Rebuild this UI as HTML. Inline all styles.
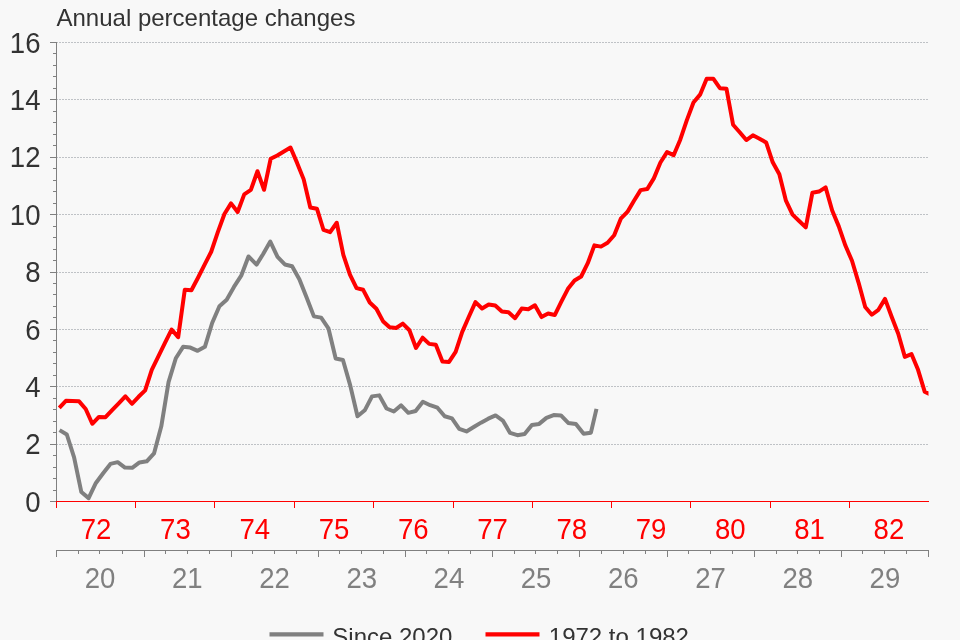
<!DOCTYPE html><html><head><meta charset="utf-8"><title>Annual percentage changes</title><style>html,body{margin:0;padding:0;background:#f8f8f8;overflow:hidden}svg{display:block}text{font-family:"Liberation Sans",sans-serif;font-size:24px}</style></head><body>
<svg width="960" height="640" viewBox="0 0 960 640">
<rect width="960" height="640" fill="#f8f8f8"/>
<defs><clipPath id="c"><rect x="56" y="30" width="872.5" height="480"/></clipPath></defs>
<g stroke="#bfc2c6" stroke-width="1" stroke-dasharray="2 1" stroke-dashoffset="1" shape-rendering="crispEdges">
<line x1="57" x2="928" y1="444.5" y2="444.5"/>
<line x1="57" x2="928" y1="386.5" y2="386.5"/>
<line x1="57" x2="928" y1="329.5" y2="329.5"/>
<line x1="57" x2="928" y1="272.5" y2="272.5"/>
<line x1="57" x2="928" y1="214.5" y2="214.5"/>
<line x1="57" x2="928" y1="157.5" y2="157.5"/>
<line x1="57" x2="928" y1="99.5" y2="99.5"/>
<line x1="57" x2="928" y1="42.5" y2="42.5"/>
</g>
<g stroke="#808080" stroke-width="1" shape-rendering="crispEdges">
<line x1="56.5" x2="56.5" y1="42" y2="502"/>
<line x1="50" x2="57" y1="501.5" y2="501.5"/>
<line x1="53" x2="57" y1="490.5" y2="490.5"/>
<line x1="53" x2="57" y1="478.5" y2="478.5"/>
<line x1="53" x2="57" y1="467.5" y2="467.5"/>
<line x1="53" x2="57" y1="455.5" y2="455.5"/>
<line x1="50" x2="57" y1="444.5" y2="444.5"/>
<line x1="53" x2="57" y1="432.5" y2="432.5"/>
<line x1="53" x2="57" y1="421.5" y2="421.5"/>
<line x1="53" x2="57" y1="409.5" y2="409.5"/>
<line x1="53" x2="57" y1="398.5" y2="398.5"/>
<line x1="50" x2="57" y1="386.5" y2="386.5"/>
<line x1="53" x2="57" y1="375.5" y2="375.5"/>
<line x1="53" x2="57" y1="363.5" y2="363.5"/>
<line x1="53" x2="57" y1="352.5" y2="352.5"/>
<line x1="53" x2="57" y1="340.5" y2="340.5"/>
<line x1="50" x2="57" y1="329.5" y2="329.5"/>
<line x1="53" x2="57" y1="317.5" y2="317.5"/>
<line x1="53" x2="57" y1="306.5" y2="306.5"/>
<line x1="53" x2="57" y1="294.5" y2="294.5"/>
<line x1="53" x2="57" y1="283.5" y2="283.5"/>
<line x1="50" x2="57" y1="272.5" y2="272.5"/>
<line x1="53" x2="57" y1="260.5" y2="260.5"/>
<line x1="53" x2="57" y1="249.5" y2="249.5"/>
<line x1="53" x2="57" y1="237.5" y2="237.5"/>
<line x1="53" x2="57" y1="226.5" y2="226.5"/>
<line x1="50" x2="57" y1="214.5" y2="214.5"/>
<line x1="53" x2="57" y1="203.5" y2="203.5"/>
<line x1="53" x2="57" y1="191.5" y2="191.5"/>
<line x1="53" x2="57" y1="180.5" y2="180.5"/>
<line x1="53" x2="57" y1="168.5" y2="168.5"/>
<line x1="50" x2="57" y1="157.5" y2="157.5"/>
<line x1="53" x2="57" y1="145.5" y2="145.5"/>
<line x1="53" x2="57" y1="134.5" y2="134.5"/>
<line x1="53" x2="57" y1="122.5" y2="122.5"/>
<line x1="53" x2="57" y1="111.5" y2="111.5"/>
<line x1="50" x2="57" y1="99.5" y2="99.5"/>
<line x1="53" x2="57" y1="88.5" y2="88.5"/>
<line x1="53" x2="57" y1="76.5" y2="76.5"/>
<line x1="53" x2="57" y1="65.5" y2="65.5"/>
<line x1="53" x2="57" y1="53.5" y2="53.5"/>
<line x1="50" x2="57" y1="42.5" y2="42.5"/>
</g>
<g fill="#333333" text-anchor="end" font-size="28">
<text transform="translate(40.5,511.65) scale(0.985,1.035)" style="font-size:28px">0</text>
<text transform="translate(40.5,454.27) scale(0.985,1.035)" style="font-size:28px">2</text>
<text transform="translate(40.5,396.90) scale(0.985,1.035)" style="font-size:28px">4</text>
<text transform="translate(40.5,339.52) scale(0.985,1.035)" style="font-size:28px">6</text>
<text transform="translate(40.5,282.15) scale(0.985,1.035)" style="font-size:28px">8</text>
<text transform="translate(40.5,224.78) scale(0.985,1.035)" style="font-size:28px">10</text>
<text transform="translate(40.5,167.40) scale(0.985,1.035)" style="font-size:28px">12</text>
<text transform="translate(40.5,110.03) scale(0.985,1.035)" style="font-size:28px">14</text>
<text transform="translate(40.5,52.65) scale(0.985,1.035)" style="font-size:28px">16</text>
</g>
<text x="56.5" y="25.6" fill="#333333">Annual percentage changes</text>
<g clip-path="url(#c)" fill="none" stroke-width="4" stroke-linejoin="round">
<path d="M59.55,430.15 L66.82,434.51 L74.09,457.35 L81.35,492.06 L88.62,498.11 L95.89,482.97 L103.15,473.21 L110.42,463.92 L117.69,462.17 L124.95,467.59 L132.22,467.79 L139.49,462.43 L146.75,461.34 L154.02,453.42 L161.29,426.34 L168.55,382.16 L175.82,358.26 L183.09,346.85 L190.35,347.59 L197.62,350.86 L204.89,346.87 L212.15,323.01 L219.42,306.17 L226.69,299.65 L233.95,286.92 L241.22,275.70 L248.49,256.45 L256.55,264.57 L263.02,254.21 L270.29,241.59 L277.55,256.94 L284.82,264.46 L292.09,266.21 L299.35,279.32 L306.62,297.53 L313.89,316.35 L321.15,317.61 L328.42,328.34 L335.69,358.49 L342.95,360.07 L350.22,385.37 L357.49,416.33 L364.75,410.33 L372.02,396.36 L379.29,395.36 L386.55,408.52 L393.82,411.51 L401.09,405.34 L408.35,412.83 L415.62,411.05 L422.89,401.75 L430.15,405.20 L437.42,407.72 L444.69,416.27 L451.95,418.45 L459.22,428.89 L466.49,431.47 L473.75,426.97 L481.02,422.64 L488.29,418.65 L495.55,415.44 L502.82,420.54 L510.09,432.91 L517.35,435.20 L524.62,433.94 L531.89,424.93 L539.15,423.90 L546.42,417.85 L553.69,415.06 L560.95,415.44 L568.22,422.90 L575.89,424.04 L583.65,433.80 L590.92,432.65 L596.49,408.84" stroke="#808080"/>
<path d="M59.27,407.81 L65.88,400.84 L72.49,401.09 L79.09,401.35 L85.70,408.95 L92.30,423.79 L98.91,416.93 L105.52,417.13 L112.12,410.10 L118.73,403.30 L125.34,396.30 L131.94,403.79 L138.55,396.79 L145.15,390.36 L151.76,369.85 L158.37,356.34 L164.97,342.89 L171.58,329.52 L178.18,337.18 L184.79,289.76 L191.40,290.27 L198.00,277.71 L204.61,264.68 L211.21,251.75 L217.82,232.12 L224.43,213.97 L231.03,203.35 L237.64,211.99 L244.24,194.37 L250.85,189.95 L257.46,171.25 L264.06,189.81 L270.67,158.77 L277.27,155.50 L283.88,151.51 L290.49,147.55 L297.09,162.90 L303.70,179.37 L310.30,207.42 L316.91,208.66 L323.52,229.97 L330.12,232.18 L336.73,222.74 L343.34,254.79 L349.94,274.73 L356.55,288.18 L363.15,289.81 L369.76,302.52 L376.37,308.78 L382.97,321.17 L389.58,327.31 L396.18,327.97 L402.79,323.55 L409.40,330.24 L416.00,347.99 L422.61,337.72 L429.21,343.86 L435.82,344.75 L442.43,361.45 L449.03,361.94 L455.64,351.87 L462.24,331.84 L468.85,316.75 L475.46,302.06 L482.06,308.55 L488.67,304.53 L495.27,305.56 L501.88,311.59 L508.49,312.25 L515.09,318.19 L521.70,308.61 L528.30,309.27 L534.91,305.33 L541.52,317.04 L548.12,313.45 L554.73,315.03 L561.34,301.69 L567.94,288.81 L574.55,280.46 L581.15,276.50 L587.76,263.22 L594.37,245.35 L600.97,246.61 L607.58,242.80 L614.18,235.28 L620.79,218.73 L627.40,211.90 L634.00,200.71 L640.61,190.15 L647.21,189.09 L653.82,178.39 L660.43,162.47 L667.03,152.09 L673.64,155.18 L680.24,139.72 L686.85,120.13 L693.46,102.49 L700.06,94.65 L706.67,78.65 L713.27,78.65 L719.88,88.23 L726.49,88.83 L733.09,124.75 L739.70,132.21 L746.30,140.01 L752.91,135.28 L759.52,138.66 L766.12,142.45 L772.73,162.27 L779.34,174.26 L785.94,200.65 L792.55,214.62 L799.15,220.94 L805.76,227.45 L812.37,192.77 L818.97,191.56 L825.58,187.31 L832.18,210.55 L838.79,226.36 L845.40,245.55 L852.00,260.78 L858.61,282.84 L865.21,307.00 L871.82,314.74 L878.43,309.81 L885.03,298.85 L891.64,316.72 L898.24,333.68 L904.85,356.83 L911.46,354.07 L918.06,369.85 L924.67,391.63 L931.27,395.01" stroke="#ff0000"/>
</g>
<g stroke="#ff0000" stroke-width="1" shape-rendering="crispEdges">
<line x1="56" x2="929" y1="501.5" y2="501.5"/>
<line x1="56.5" x2="56.5" y1="501" y2="508"/>
<line x1="135.5" x2="135.5" y1="501" y2="508"/>
<line x1="214.5" x2="214.5" y1="501" y2="508"/>
<line x1="294.5" x2="294.5" y1="501" y2="508"/>
<line x1="373.5" x2="373.5" y1="501" y2="508"/>
<line x1="453.5" x2="453.5" y1="501" y2="508"/>
<line x1="532.5" x2="532.5" y1="501" y2="508"/>
<line x1="611.5" x2="611.5" y1="501" y2="508"/>
<line x1="690.5" x2="690.5" y1="501" y2="508"/>
<line x1="770.5" x2="770.5" y1="501" y2="508"/>
<line x1="849.5" x2="849.5" y1="501" y2="508"/>
</g>
<g fill="#ff0000" text-anchor="middle">
<text transform="translate(96.1,538.9) scale(0.985,1.035)" style="font-size:28px">72</text>
<text transform="translate(175.4,538.9) scale(0.985,1.035)" style="font-size:28px">73</text>
<text transform="translate(254.7,538.9) scale(0.985,1.035)" style="font-size:28px">74</text>
<text transform="translate(334.0,538.9) scale(0.985,1.035)" style="font-size:28px">75</text>
<text transform="translate(413.2,538.9) scale(0.985,1.035)" style="font-size:28px">76</text>
<text transform="translate(492.5,538.9) scale(0.985,1.035)" style="font-size:28px">77</text>
<text transform="translate(571.8,538.9) scale(0.985,1.035)" style="font-size:28px">78</text>
<text transform="translate(651.0,538.9) scale(0.985,1.035)" style="font-size:28px">79</text>
<text transform="translate(730.3,538.9) scale(0.985,1.035)" style="font-size:28px">80</text>
<text transform="translate(809.6,538.9) scale(0.985,1.035)" style="font-size:28px">81</text>
<text transform="translate(888.9,538.9) scale(0.985,1.035)" style="font-size:28px">82</text>
</g>
<g stroke="#808080" stroke-width="1" shape-rendering="crispEdges">
<line x1="56" x2="929" y1="550.5" y2="550.5"/>
<line x1="56.5" x2="56.5" y1="550" y2="557"/>
<line x1="78.5" x2="78.5" y1="550" y2="554"/>
<line x1="99.5" x2="99.5" y1="550" y2="554"/>
<line x1="122.5" x2="122.5" y1="550" y2="554"/>
<line x1="144.5" x2="144.5" y1="550" y2="557"/>
<line x1="165.5" x2="165.5" y1="550" y2="554"/>
<line x1="187.5" x2="187.5" y1="550" y2="554"/>
<line x1="209.5" x2="209.5" y1="550" y2="554"/>
<line x1="231.5" x2="231.5" y1="550" y2="557"/>
<line x1="252.5" x2="252.5" y1="550" y2="554"/>
<line x1="274.5" x2="274.5" y1="550" y2="554"/>
<line x1="296.5" x2="296.5" y1="550" y2="554"/>
<line x1="318.5" x2="318.5" y1="550" y2="557"/>
<line x1="339.5" x2="339.5" y1="550" y2="554"/>
<line x1="361.5" x2="361.5" y1="550" y2="554"/>
<line x1="383.5" x2="383.5" y1="550" y2="554"/>
<line x1="405.5" x2="405.5" y1="550" y2="557"/>
<line x1="426.5" x2="426.5" y1="550" y2="554"/>
<line x1="448.5" x2="448.5" y1="550" y2="554"/>
<line x1="470.5" x2="470.5" y1="550" y2="554"/>
<line x1="492.5" x2="492.5" y1="550" y2="557"/>
<line x1="514.5" x2="514.5" y1="550" y2="554"/>
<line x1="535.5" x2="535.5" y1="550" y2="554"/>
<line x1="557.5" x2="557.5" y1="550" y2="554"/>
<line x1="579.5" x2="579.5" y1="550" y2="557"/>
<line x1="601.5" x2="601.5" y1="550" y2="554"/>
<line x1="623.5" x2="623.5" y1="550" y2="554"/>
<line x1="645.5" x2="645.5" y1="550" y2="554"/>
<line x1="667.5" x2="667.5" y1="550" y2="557"/>
<line x1="688.5" x2="688.5" y1="550" y2="554"/>
<line x1="710.5" x2="710.5" y1="550" y2="554"/>
<line x1="732.5" x2="732.5" y1="550" y2="554"/>
<line x1="754.5" x2="754.5" y1="550" y2="557"/>
<line x1="776.5" x2="776.5" y1="550" y2="554"/>
<line x1="797.5" x2="797.5" y1="550" y2="554"/>
<line x1="819.5" x2="819.5" y1="550" y2="554"/>
<line x1="841.5" x2="841.5" y1="550" y2="557"/>
<line x1="862.5" x2="862.5" y1="550" y2="554"/>
<line x1="884.5" x2="884.5" y1="550" y2="554"/>
<line x1="906.5" x2="906.5" y1="550" y2="554"/>
<line x1="928.5" x2="928.5" y1="550" y2="557"/>
</g>
<g fill="#808080" text-anchor="middle">
<text transform="translate(100.1,588.1) scale(0.985,1.035)" style="font-size:28px">20</text>
<text transform="translate(187.3,588.1) scale(0.985,1.035)" style="font-size:28px">21</text>
<text transform="translate(274.5,588.1) scale(0.985,1.035)" style="font-size:28px">22</text>
<text transform="translate(361.7,588.1) scale(0.985,1.035)" style="font-size:28px">23</text>
<text transform="translate(448.9,588.1) scale(0.985,1.035)" style="font-size:28px">24</text>
<text transform="translate(536.1,588.1) scale(0.985,1.035)" style="font-size:28px">25</text>
<text transform="translate(623.3,588.1) scale(0.985,1.035)" style="font-size:28px">26</text>
<text transform="translate(710.5,588.1) scale(0.985,1.035)" style="font-size:28px">27</text>
<text transform="translate(797.7,588.1) scale(0.985,1.035)" style="font-size:28px">28</text>
<text transform="translate(884.9,588.1) scale(0.985,1.035)" style="font-size:28px">29</text>
</g>
<line x1="269.5" x2="323.5" y1="634.4" y2="634.4" stroke="#808080" stroke-width="4.4"/>
<text x="332.3" y="645" fill="#333333">Since 2020</text>
<line x1="485.5" x2="539.5" y1="634.4" y2="634.4" stroke="#ff0000" stroke-width="4.4"/>
<text x="548.8" y="645" fill="#333333">1972 to 1982</text>
</svg></body></html>
